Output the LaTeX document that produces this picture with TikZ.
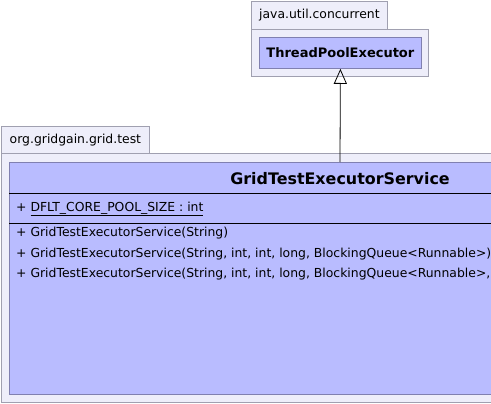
\documentclass[tikz,border=0pt]{standalone}
\usepackage{fontspec}
\setmainfont{DejaVu Sans}
\usetikzlibrary{positioning, arrows.meta}

\definecolor{pkgfill}{RGB}{238,238,250}
\definecolor{pkgline}{RGB}{160,160,176}
\definecolor{clsfill}{RGB}{185,188,255}
\definecolor{clsline}{RGB}{128,128,176}

\tikzset{
  pkgtab/.style={draw=pkgline, fill=pkgfill, line width=0.8pt, inner sep=0pt,
    anchor=north west, font=\fontsize{12.4}{14}\selectfont},
  pkgbody/.style={draw=pkgline, fill=pkgfill, line width=0.8pt, inner sep=0pt,
    anchor=north west},
  classbox/.style={draw=clsline, fill=clsfill, line width=0.8pt, inner sep=0pt,
    anchor=north west},
  member/.style={anchor=west, inner sep=0pt, font=\fontsize{12.4}{14}\selectfont},
}

\begin{document}
\begin{tikzpicture}[x=1pt, y=-1pt]
\useasboundingbox (0,0) rectangle (491,404);
\clip (0,0) rectangle (491,404);

% package java.util.concurrent
\node[pkgtab, minimum width=136pt, minimum height=28pt] (tabconc) at (251,1)
    {java.util.concurrent};
\node[pkgbody, minimum width=177pt, minimum height=47pt] (pkgconc) at (251,29) {};
\node[classbox, minimum width=162pt, minimum height=31pt,
    font=\bfseries\fontsize{13}{15}\selectfont] (tpe) at (259,37)
    {ThreadPoolExecutor};

% package org.gridgain.grid.test
\node[pkgtab, minimum width=148pt, minimum height=27pt] (tabtest) at (1,126)
    {org.gridgain.grid.test};
\node[pkgbody, minimum width=700pt, minimum height=249pt] (pkgtest) at (1,153) {};
\node[classbox, minimum width=662pt, minimum height=232pt] (svc) at (9,162) {};

\node[font=\bfseries\fontsize{15.9}{18}\selectfont] (svcname) at (340,179)
    {GridTestExecutorService};
\draw[line width=0.8pt] (svc.west |- 0,193) -- (svc.east |- 0,193);
\draw[line width=0.8pt] (svc.west |- 0,223) -- (svc.east |- 0,223);

\node[member] (attr) at (16,209) {+ \underline{DFLT\_CORE\_POOL\_SIZE : int}};
\node[member] (ctorA) at (16,233.5) {+ GridTestExecutorService(String)};
\node[member, below=20.5pt of ctorA.west, anchor=west] (ctorB)
    {+ GridTestExecutorService(String, int, int, long, BlockingQueue<Runnable>)};
\node[member, below=20.5pt of ctorB.west, anchor=west] (ctorC)
    {+ GridTestExecutorService(String, int, int, long, BlockingQueue<Runnable>,};

\draw[line width=0.8pt, -{Triangle[open, width=13pt, length=15pt]}]
    (svc.north -| svcname) -- (tpe.south);
\end{tikzpicture}
\end{document}
